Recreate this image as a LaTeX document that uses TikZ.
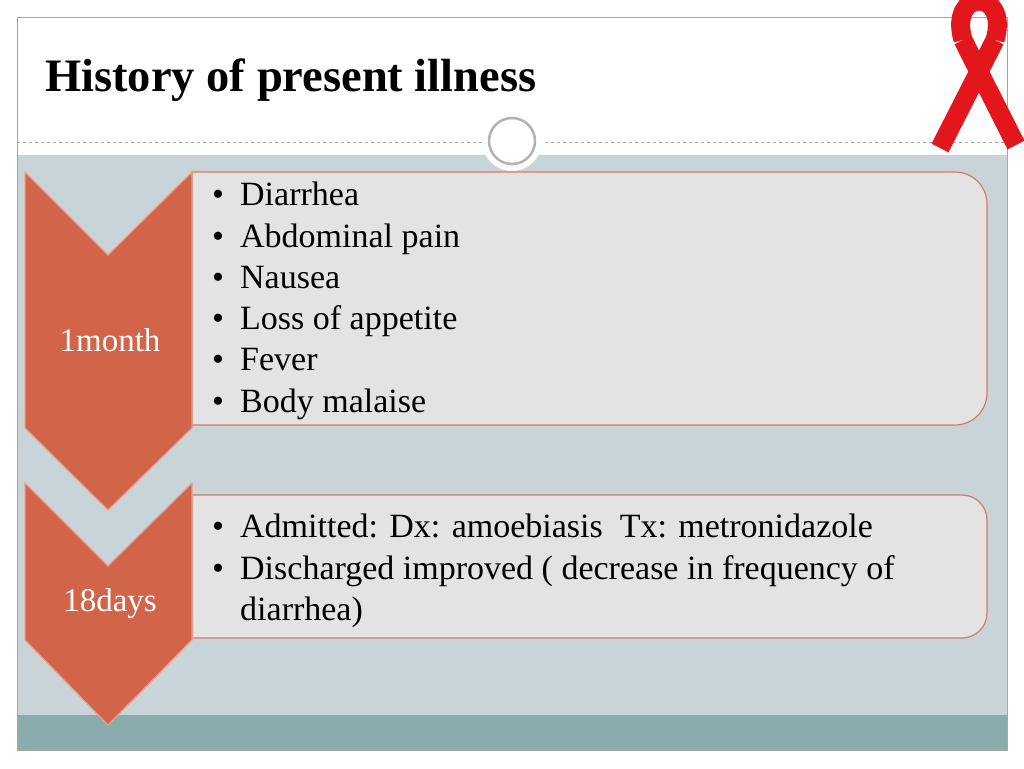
\documentclass[tikz,border=0pt]{standalone}
\usepackage{fontspec}
\setmainfont{Liberation Serif}
\newcommand{\bul}{\makebox[28pt][l]{\textbullet}}
\begin{document}
\begin{tikzpicture}[x=1pt,y=-1pt,
  chev/.style={fill=chevfill,draw=chevline,line width=1.2pt},
  box/.style={fill=boxfill,draw=boxline,line width=1.2pt},
  txt/.style={font=\fontsize{34}{41.3}\selectfont,anchor=north west,align=left,inner sep=0pt},
  lab/.style={font=\fontsize{33}{36}\selectfont,text=white},
  rib/.style={draw=ribred,line width=19pt}]
\definecolor{chevfill}{HTML}{D2644A}
\definecolor{chevline}{HTML}{E8A090}
\definecolor{boxfill}{HTML}{E3E3E3}
\definecolor{boxline}{HTML}{D87A66}
\definecolor{bg}{HTML}{C8D4D8}
\definecolor{band}{HTML}{8AACAC}
\definecolor{ribred}{HTML}{E3161B}
\useasboundingbox (0,0) rectangle (1024,768);
\fill[white] (0,0) rectangle (1024,768);
\fill[bg] (17,155) rectangle (1007,715);
\fill[band] (17,715) rectangle (1007,750);
\draw[gray!70,line width=0.8pt] (17,17) rectangle (1007,750);
\draw[gray!70,dashed,line width=0.8pt] (17,142) -- (1007,142);
\node[font=\fontsize{46.5}{50}\selectfont\bfseries,anchor=west,inner sep=0pt] (title) at (45,80) {History of present illness};
\node[circle,fill=white,minimum size=60pt,inner sep=0pt] (c0) at (512,141) {};
\node[circle,draw=gray!60,fill=white,line width=2.5pt,minimum size=46pt,inner sep=0pt] (c1) at (512,141) {};
% boxes
\draw[box,rounded corners=32pt] (192,172) -- (987,172) -- (987,425) [sharp corners] -- (192,425) -- cycle;
\draw[box,rounded corners=25pt] (192,495) -- (987,495) -- (987,638) [sharp corners] -- (192,638) -- cycle;
% chevrons
\draw[chev] (25,172) -- (108,255) -- (192,172) -- (192,428) -- (108,510) -- (25,428) -- cycle;
\draw[chev] (25,483) -- (108,566) -- (192,483) -- (192,640) -- (108,725) -- (25,640) -- cycle;
\node[lab] (l1) at (110,340) {1month};
\node[lab] (l2) at (110,604) {18days};
\node[txt] (t1) at (212,182) {\bul Diarrhea\\\bul Abdominal pain\\\bul Nausea\\\bul Loss of appetite\\\bul Fever\\\bul Body malaise};
\node[txt] (t2) at (212,514) {\bul Admitted: Dx: amoebiasis\ \ Tx: metronidazole\\\bul Discharged improved ( decrease in frequency of\\\hspace*{28pt}diarrhea)};
% ribbon
\draw[rib] (963,40) -- (1016,145);
\draw[rib] (963,40) .. controls (948,-12) and (1010,-12) .. (995,40);
\draw[rib] (995,40) -- (940,148);
\end{tikzpicture}
\end{document}
